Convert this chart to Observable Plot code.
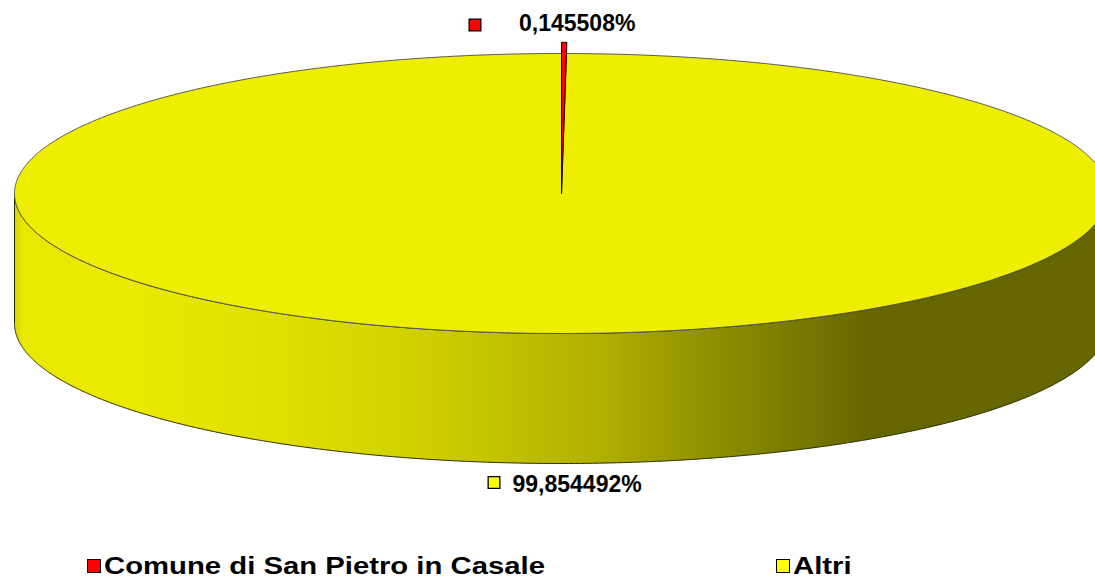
<!DOCTYPE html>
<html><head><meta charset="utf-8">
<script src="https://cdn.jsdelivr.net/npm/d3@7"></script>
<script src="https://cdn.jsdelivr.net/npm/@observablehq/plot@0.6"></script>
<style>
body{margin:0;background:#fff;font-family:"Liberation Sans",Arial,sans-serif;}
#chart{position:relative;width:1095px;height:580px;overflow:hidden;}
#chart svg{display:block;}
.legend{position:absolute;top:540px;left:0;width:1095px;height:40px;}
.item{position:absolute;top:0;height:40px;}
.key{position:absolute;top:19px;width:14px;height:14px;box-sizing:border-box;border:1.5px solid #000;}
.lab{position:absolute;top:12px;font-weight:bold;font-size:24px;line-height:28px;white-space:nowrap;transform:scaleX(1.22);transform-origin:left center;color:#000;}
</style></head>
<body><div id="chart"></div>
<script>
// ---- data ----
const categories = ["Comune di San Pietro in Casale", "Altri"];
const shares = [0.145508, 99.854492];          // percent
const sliceLabels = ["0,145508%", "99,854492%"];

// ---- styles ----
const colors = ["#ff0000", "#eeee00"];
const keyColors = ["#ff0000", "#ffff00"];
const font = "Liberation Sans, Arial, sans-serif";
const depth = 130 / 140;       // side height in y-units
const redExplode = 1.08;
const step = Math.PI / 720;

// ---- geometry from data ----
const total = d3.sum(shares);
let acc = 0;
const slices = shares.map((v, i) => {
  const a0 = acc / total * 2 * Math.PI;
  acc += v;
  const a1 = acc / total * 2 * Math.PI;
  return {i, name: categories[i], label: sliceLabels[i], a0, a1, mid: (a0 + a1) / 2};
});
function arc(a0, a1, r = 1, yoff = 0) {
  const n = Math.max(2, Math.ceil(Math.abs(a1 - a0) / step));
  return d3.range(n + 1).map(k => {
    const a = a0 + (a1 - a0) * k / n;
    return {x: r * Math.sin(a), y: -r * Math.cos(a) + yoff};
  });
}
const center = {x: 0, y: 0};
const wedge = s => [center, ...arc(s.a0, s.a1, s.i === 0 ? redExplode : 1), center];
const side = [...arc(Math.PI / 2, 3 * Math.PI / 2), ...arc(3 * Math.PI / 2, Math.PI / 2, 1, depth)];
side.push(side[0]);

const red = slices[0], yel = slices[1];
const redLab = [{x: Math.sin(red.mid), y: -1, t: red.label}];
const yelLab = [{x: Math.sin(yel.mid), y: 1 + depth, t: yel.label}];

const plot = Plot.plot({
  width: 1095, height: 540,
  margin: 0,
  x: {type: "linear", domain: [-1, 1], range: [14, 1108], axis: null},
  y: {type: "linear", domain: [-1, 1], range: [53, 333], axis: null},
  marks: [
    Plot.line(side, {x: "x", y: "y", fill: "url(#sideGrad)", stroke: "#2a2a00", strokeWidth: 1, curve: "linear"}),
    Plot.line(wedge(yel), {x: "x", y: "y", fill: colors[1], stroke: "#555", strokeWidth: 1, curve: "linear"}),
    Plot.line(wedge(red), {x: "x", y: "y", fill: colors[0], stroke: "#200", strokeWidth: 1, curve: "linear"}),
    Plot.dot(redLab, {x: "x", y: "y", dx: -89, dy: -28.5, symbol: "square", r: 6.6, fill: keyColors[0], stroke: "#000", strokeWidth: 1.3}),
    Plot.text(redLab, {x: "x", y: "y", text: "t", dx: -45, dy: -30, textAnchor: "start", fontSize: 23, fontWeight: "bold", fontFamily: font, fill: "#000"}),
    Plot.dot(yelLab, {x: "x", y: "y", dx: -65, dy: 19, symbol: "square", r: 6.6, fill: keyColors[1], stroke: "#000", strokeWidth: 1.3}),
    Plot.text(yelLab, {x: "x", y: "y", text: "t", dx: -46.5, dy: 21, textAnchor: "start", fontSize: 23, fontWeight: "bold", fontFamily: font, fill: "#000"})
  ]
});

// side-face shading gradient (pixel space from the x scale)
const xs = plot.scale("x");
const px = u => xs.apply(u);
const gradStops = [
  [-1, "#d4d400"], [-0.985, "#e8e800"], [-0.84, "#eaea00"], [-0.57, "#e2e200"],
  [-0.29, "#d2d200"], [-0.11, "#c2c200"], [0.07, "#b0b000"], [0.25, "#939300"],
  [0.44, "#777700"], [0.565, "#666600"], [1, "#666600"]
];
const svg = d3.select(plot);
const defs = svg.insert("defs", ":first-child");
const g = defs.append("linearGradient").attr("id", "sideGrad")
  .attr("gradientUnits", "userSpaceOnUse")
  .attr("x1", px(-1)).attr("x2", px(1)).attr("y1", 0).attr("y2", 0);
gradStops.forEach(([u, c]) => g.append("stop").attr("offset", (u + 1) / 2).attr("stop-color", c));

const root = document.getElementById("chart");
root.appendChild(plot);

// legend
const legend = document.createElement("div");
legend.className = "legend";
const legendPos = [87, 776];
categories.forEach((c, i) => {
  const item = document.createElement("div");
  item.className = "item";
  item.style.left = legendPos[i] + "px";
  item.innerHTML = `<div class="key" style="left:0;background:${keyColors[i]}"></div><div class="lab" style="left:17px">${c}</div>`;
  legend.appendChild(item);
});
root.appendChild(legend);
</script>
</body></html>
